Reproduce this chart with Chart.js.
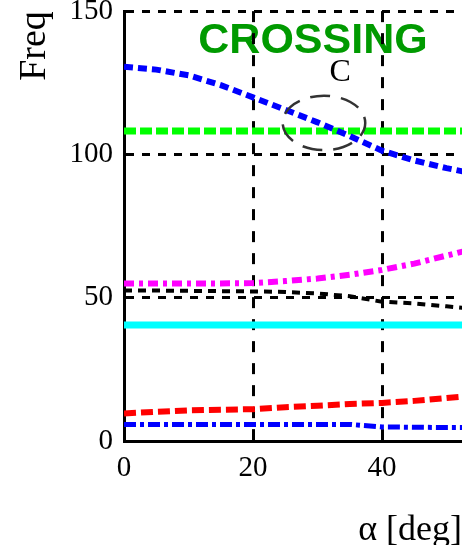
<!DOCTYPE html>
<html><head><meta charset="utf-8">
<script src="https://cdn.jsdelivr.net/npm/chart.js@4.4.1/dist/chart.umd.min.js"></script>
<style>html,body{margin:0;padding:0;background:#fff;overflow:hidden}#wrap{position:relative;width:462px;height:545px}</style>
</head><body><div id="wrap"><canvas id="c" width="462" height="545"></canvas></div>
<script>
// ---- data ----
const alphaDeg      = [0, 5, 10, 15, 20, 25, 30, 35, 40, 45, 50, 55];
const freqBlueUpper = [130.6, 129.6, 127.6, 124.2, 119.9, 115.6, 111.2, 106.4, 101.3, 97.9, 95.2, 93.0];
const freqGreen     = [108.2, 108.2, 108.2, 108.2, 108.2, 108.2, 108.2, 108.2, 108.2, 108.2, 108.2, 108.2];
const freqMagenta   = [55.0, 55.0, 55.0, 55.0, 55.1, 55.8, 56.7, 58.0, 59.7, 61.9, 64.7, 67.5];
const freqBlack     = [52.5, 52.5, 52.4, 52.3, 52.2, 52.0, 51.5, 50.5, 48.6, 48.0, 47.0, 46.0];
const freqCyan      = [40.5, 40.5, 40.5, 40.5, 40.5, 40.5, 40.5, 40.5, 40.5, 40.5, 40.5, 40.5];
const freqRed       = [9.6, 10.2, 10.7, 10.9, 11.1, 11.8, 12.3, 12.9, 13.3, 14.0, 15.0, 16.0];
const freqBlueLower = [5.8, 5.8, 5.8, 5.8, 5.8, 5.8, 5.8, 5.8, 4.9, 4.8, 4.7, 4.7];
const xTickValues = [0, 20, 40];
const yTickValues = [0, 50, 100, 150];
const titleText = 'CROSSING';
const xTitle = 'α [deg]';
const yTitle = 'Freq';
const crossingLabel = 'C';
const crossingMark = {alpha: 31, freq: 111, dAlpha: 6.4, dFreq: 9.5, labelAlpha: 33.5, labelFreq: 128.5};

function pts(ys){ return alphaDeg.map((a,i)=>({x:a, y:ys[i]})); }
function ds(data, color, width, dash){
  return {data: pts(data), borderColor: color, backgroundColor: color, borderWidth: width,
          borderDash: dash, pointRadius: 0, tension: 0, fill: false, borderCapStyle: 'butt'};
}

const titlePlugin = {
  id: 'titleBg',
  beforeDraw(chart){
    const {ctx, chartArea} = chart;
    ctx.save();
    ctx.fillStyle = '#ffffff';
    ctx.fillRect(0, 0, chart.width, chart.height);
    ctx.font = 'bold 43px "Liberation Sans", Arial, sans-serif';
    ctx.fillStyle = '#009a00';
    ctx.textAlign = 'center';
    ctx.textBaseline = 'alphabetic';
    ctx.fillText(titleText, chartArea.left + 189, chartArea.top + 42);
    ctx.restore();
  }
};

const markPlugin = {
  id: 'crossMark',
  afterDatasetsDraw(chart){
    const {ctx} = chart;
    const xs = chart.scales.x, ys = chart.scales.y;
    const cx = xs.getPixelForValue(crossingMark.alpha);
    const cy = ys.getPixelForValue(crossingMark.freq);
    const rx = xs.getPixelForValue(crossingMark.alpha + crossingMark.dAlpha) - cx;
    const ry = cy - ys.getPixelForValue(crossingMark.freq + crossingMark.dFreq);
    ctx.save();
    ctx.strokeStyle = '#333333';
    ctx.lineWidth = 2.5;
    ctx.setLineDash([20, 11]);
    ctx.lineDashOffset = 6;
    ctx.beginPath();
    ctx.ellipse(cx, cy, rx, ry, 0, 0, Math.PI * 2);
    ctx.stroke();
    ctx.setLineDash([]);
    ctx.fillStyle = '#000';
    ctx.font = '32px "Liberation Serif", "Times New Roman", serif';
    ctx.textAlign = 'center';
    ctx.textBaseline = 'middle';
    ctx.fillText(crossingLabel, xs.getPixelForValue(crossingMark.labelAlpha), ys.getPixelForValue(crossingMark.labelFreq));
    ctx.restore();
  }
};

new Chart(document.getElementById('c'), {
  type: 'line',
  data: {
    datasets: [
      ds(freqBlueUpper, '#0000ff', 6, [9, 5]),
      ds(freqGreen, '#00ff00', 7, [12, 4]),
      ds(freqMagenta, '#ff00ff', 6, [10, 5, 4, 5]),
      ds(freqBlack, '#000000', 4, [8, 6]),
      ds(freqCyan, '#00ffff', 7, []),
      ds(freqRed, '#ff0000', 6, [12, 5]),
      ds(freqBlueLower, '#0000ff', 5, [12, 4, 4, 4])
    ]
  },
  options: {
    responsive: false,
    animation: false,
    devicePixelRatio: 1,
    layout: {padding: {top: 0, left: 0, right: 0, bottom: 0}},
    plugins: {legend: {display: false}, tooltip: {enabled: false}, title: {display: false}},
    scales: {
      x: {
        type: 'linear', min: 0, max: 52.4,
        afterBuildTicks: s => { s.ticks = xTickValues.map(v => ({value: v})); },
        afterFit: s => { s.height = 104; },
        grid: {color: '#000', lineWidth: 3, drawTicks: false},
        border: {display: true, color: '#000', width: 3, dash: [11, 11]},
        ticks: {color: '#000', padding: 10, font: {family: '"Liberation Serif", "Times New Roman", serif', size: 29, lineHeight: 1.2}},
        title: {display: true, text: xTitle, align: 'end', color: '#000',
                font: {family: '"Liberation Serif", "Times New Roman", serif', size: 36, lineHeight: 1},
                padding: {top: 0, bottom: -4}}
      },
      y: {
        type: 'linear', min: 0, max: 150,
        afterBuildTicks: s => { s.ticks = yTickValues.map(v => ({value: v})); },
        afterFit: s => { s.width = 124; },
        grid: {color: '#000', lineWidth: 3, drawTicks: false},
        border: {display: true, color: '#000', width: 3, dash: [8, 8]},
        ticks: {color: '#000', padding: 11, font: {family: '"Liberation Serif", "Times New Roman", serif', size: 29, lineHeight: 0.01}},
        title: {display: true, text: yTitle, align: 'end', color: '#000',
                font: {family: '"Liberation Serif", "Times New Roman", serif', size: 38, lineHeight: 1},
                padding: {top: 16, bottom: 0}}
      }
    }
  },
  plugins: [titlePlugin, markPlugin]
});
</script></body></html>
